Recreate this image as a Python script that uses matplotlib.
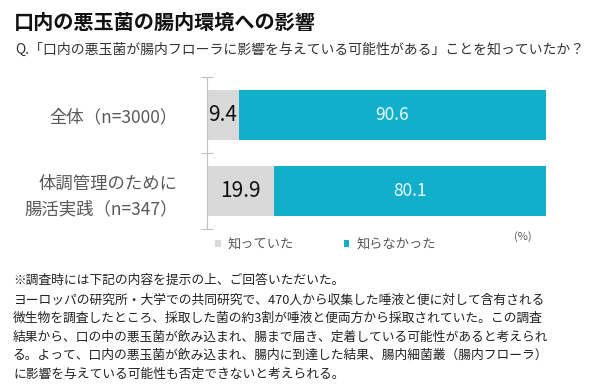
import numpy as np
import matplotlib
matplotlib.use("Agg")
import matplotlib.pyplot as plt

plt.rcParams['font.family'] = ['Noto Sans CJK JP', 'DejaVu Sans']

# データ
categories = ['全体（n=3000）', '体調管理のために\n腸活実践（n=347）']
knew = [9.4, 19.9]
not_knew = [90.6, 80.1]
series_names = ['知っていた', '知らなかった']

title = '口内の悪玉菌の腸内環境への影響'
question = 'Q.「口内の悪玉菌が腸内フローラに影響を与えている可能性がある」ことを知っていたか？'
note_lines = [
    '※調査時には下記の内容を提示の上、ご回答いただいた。',
    'ヨーロッパの研究所・大学での共同研究で、470人から収集した唾液と便に対して含有される',
    '微生物を調査したところ、採取した菌の約3割が唾液と便両方から採取されていた。この調査',
    '結果から、口の中の悪玉菌が飲み込まれ、腸まで届き、定着している可能性があると考えられ',
    'る。よって、口内の悪玉菌が飲み込まれ、腸内に到達した結果、腸内細菌叢（腸内フローラ）',
    'に影響を与えている可能性も否定できないと考えられる。',
]

gray = '#D9D9D9'
teal = '#12AFCB'
W, H = 615, 392

fig = plt.figure(figsize=(W / 100, H / 100), dpi=100)

# タイトル・設問
fig.text(14 / W, 1 - 22 / H, title, fontsize=14.5, fontweight='bold',
         color='#111111', va='center', ha='left')
fig.text(15 / W, 1 - 50 / H, question, fontsize=10, color='#333333',
         va='center', ha='left')

# 帯グラフ
ax = fig.add_axes([207 / W, 1 - 229 / H, 339 / W, 152 / H])
y = np.arange(len(categories))
b1 = ax.barh(y, knew, height=0.65, color=gray, label=series_names[0])
b2 = ax.barh(y, not_knew, left=knew, height=0.65, color=teal, label=series_names[1])

for i in range(len(categories)):
    ax.text(knew[i] / 2, y[i], f'{knew[i]}', ha='center', va='center',
            fontsize=15, color='#111111')
    ax.text(knew[i] + not_knew[i] / 2, y[i], f'{not_knew[i]}', ha='center',
            va='center', fontsize=12.5, color='#EAF8FB')

ax.set_xlim(0, 100)
ax.set_ylim(1.5, -0.5)
for s in ['top', 'right', 'bottom']:
    ax.spines[s].set_visible(False)
ax.spines['left'].set_color('#BFBFBF')
ax.set_xticks([])
ax.set_yticks([-0.5, 0.5, 1.5])
ax.set_yticklabels([])
ax.tick_params(axis='y', which='major', direction='inout', length=9,
               color='#BFBFBF')
ax.set_yticks(y, minor=True)
ax.set_yticklabels(categories, minor=True, fontsize=12.5, color='#595959',
                   linespacing=1.5)
ax.tick_params(axis='y', which='minor', length=0, pad=21)

# 凡例
ax.legend(handles=[b1, b2], loc='center left', bbox_to_anchor=(208 / W, 1 - 245 / H),
          bbox_transform=fig.transFigure, ncol=2, frameon=False, fontsize=9.5,
          handlelength=0.45, handleheight=0.45, handletextpad=0.5,
          columnspacing=3.8, borderpad=0, labelcolor='#595959')
fig.text(523 / W, 1 - 237 / H, '(%)', fontsize=8, color='#595959',
         ha='center', va='center')

# 注記
ys = [280] + [300 + 18.5 * k for k in range(len(note_lines) - 1)]
for line, yy in zip(note_lines, ys):
    fig.text(13 / W, 1 - yy / H, line, fontsize=9.2, color='#222222',
             ha='left', va='center')

fig.savefig('out.png', dpi=100)
